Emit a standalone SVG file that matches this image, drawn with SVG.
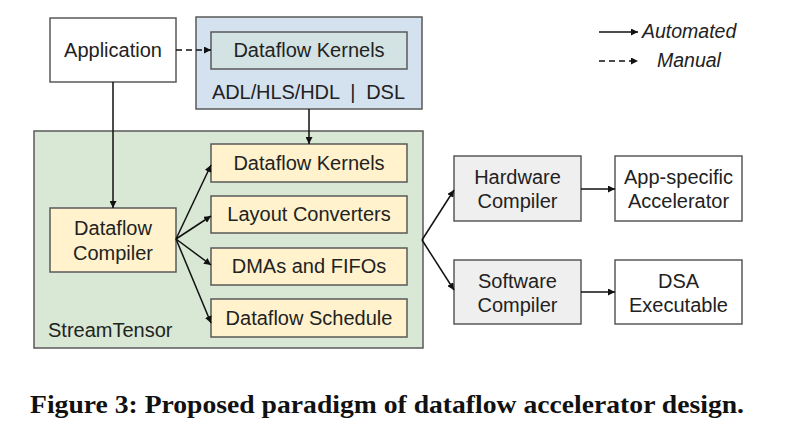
<svg xmlns="http://www.w3.org/2000/svg" width="800" height="445" viewBox="0 0 800 445">
<defs>
<style>
.box{stroke:#595959;stroke-width:1.5}
.t{font-family:"Liberation Sans",Arial,sans-serif;font-size:20px;fill:#222;text-anchor:middle}
.c{stroke:#111;stroke-width:1.5;fill:none}
.d{stroke:#111;stroke-width:1.5;fill:none;stroke-dasharray:6,4}
</style>
<marker id="ah" viewBox="0 0 10 10" refX="10" refY="5" markerWidth="7" markerHeight="7" markerUnits="userSpaceOnUse" orient="auto"><path d="M0,0 L10,5 L0,10 Z" fill="#111"/></marker>
</defs>
<rect width="800" height="445" fill="#fff"/>
<g id="app"><rect class="box" x="50" y="18" width="126" height="64" fill="#fff"/><text class="t" x="113" y="57">Application</text></g>
<g id="dsl"><rect class="box" x="196" y="17" width="226" height="92" fill="#d4e1ef"/><text class="t" x="212" y="99" style="text-anchor:start" textLength="193" xml:space="preserve">ADL/HLS/HDL  |  DSL</text></g>
<g id="kern-manual"><rect class="box" x="211" y="32" width="196" height="37" fill="#d3e2e2"/><text class="t" x="309" y="57">Dataflow Kernels</text></g>
<g id="streamtensor"><rect class="box" x="34" y="131" width="389" height="217" fill="#d9e8d4"/><text class="t" x="48" y="337" style="text-anchor:start">StreamTensor</text></g>
<g id="compiler"><rect class="box" x="50" y="208" width="126" height="64" fill="#fff2cc"/><text class="t" x="113" y="235">Dataflow</text><text class="t" x="113" y="260">Compiler</text></g>
<g id="kern"><rect class="box" x="211" y="144" width="196" height="38" fill="#fff2cc"/><text class="t" x="309" y="170">Dataflow Kernels</text></g>
<g id="layout"><rect class="box" x="211" y="196" width="196" height="37" fill="#fff2cc"/><text class="t" x="309" y="221">Layout Converters</text></g>
<g id="dma"><rect class="box" x="211" y="248" width="196" height="37" fill="#fff2cc"/><text class="t" x="309" y="273">DMAs and FIFOs</text></g>
<g id="sched"><rect class="box" x="211" y="299" width="196" height="38" fill="#fff2cc"/><text class="t" x="309" y="325">Dataflow Schedule</text></g>
<g id="hw"><rect class="box" x="454" y="156" width="127" height="65" fill="#efefef"/><text class="t" x="517.5" y="184">Hardware</text><text class="t" x="517.5" y="208">Compiler</text></g>
<g id="sw"><rect class="box" x="454" y="260" width="127" height="64" fill="#efefef"/><text class="t" x="517.5" y="288">Software</text><text class="t" x="517.5" y="312">Compiler</text></g>
<g id="acc"><rect class="box" x="615" y="156" width="127" height="65" fill="#fff"/><text class="t" x="678.5" y="184">App-specific</text><text class="t" x="678.5" y="208">Accelerator</text></g>
<g id="exe"><rect class="box" x="615" y="260" width="127" height="64" fill="#fff"/><text class="t" x="678.5" y="288">DSA</text><text class="t" x="678.5" y="312">Executable</text></g>
<g id="legend">
<line class="c" x1="599" y1="32" x2="638" y2="32" marker-end="url(#ah)"/>
<text x="642" y="38" style="font-family:'Liberation Sans',Arial,sans-serif;font-size:19.5px;font-style:italic;fill:#222">Automated</text>
<line class="d" x1="599" y1="61" x2="638" y2="61" marker-end="url(#ah)"/>
<text x="657" y="67" style="font-family:'Liberation Sans',Arial,sans-serif;font-size:19.5px;font-style:italic;fill:#222">Manual</text>
</g>
<g id="connectors">
<line class="d" x1="176" y1="50" x2="211" y2="50" marker-end="url(#ah)"/>
<line class="c" x1="113" y1="82" x2="113" y2="208" marker-end="url(#ah)"/>
<line class="c" x1="309" y1="109" x2="309" y2="144" marker-end="url(#ah)"/>
<line class="c" x1="176" y1="239" x2="211" y2="165" marker-end="url(#ah)"/>
<line class="c" x1="176" y1="239" x2="211" y2="216" marker-end="url(#ah)"/>
<line class="c" x1="176" y1="239" x2="211" y2="265" marker-end="url(#ah)"/>
<line class="c" x1="176" y1="239" x2="211" y2="323" marker-end="url(#ah)"/>
<line class="c" x1="422" y1="240" x2="454" y2="190" marker-end="url(#ah)"/>
<line class="c" x1="422" y1="240" x2="454" y2="290" marker-end="url(#ah)"/>
<line class="c" x1="581" y1="189" x2="615" y2="189" marker-end="url(#ah)"/>
<line class="c" x1="581" y1="292" x2="615" y2="292" marker-end="url(#ah)"/>
</g>
<text x="30" y="413" textLength="714" lengthAdjust="spacingAndGlyphs" style="font-family:'Liberation Serif','Times New Roman',serif;font-size:25px;font-weight:bold;fill:#111">Figure 3: Proposed paradigm of dataflow accelerator design.</text>
</svg>
